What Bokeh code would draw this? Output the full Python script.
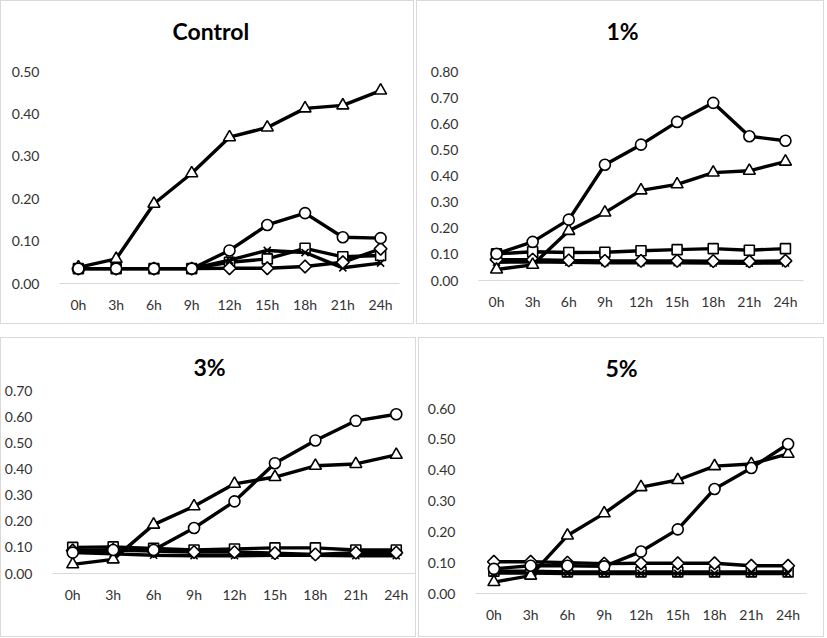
from bokeh.plotting import figure
from bokeh.layouts import row, column
from bokeh.models import FactorRange, Range1d, NumeralTickFormatter, SingleIntervalTicker, Title
from bokeh.embed import file_html
from bokeh.resources import INLINE

hours = ["0h", "3h", "6h", "9h", "12h", "15h", "18h", "21h", "24h"]

# Control
tri_c = [0.038, 0.058, 0.188, 0.26, 0.345, 0.368, 0.413, 0.42, 0.455]
circle_c = [0.035, 0.035, 0.035, 0.035, 0.078, 0.138, 0.166, 0.109, 0.107]
square_c = [0.035, 0.035, 0.035, 0.035, 0.05, 0.058, 0.083, 0.063, 0.066]
x_c = [0.035, 0.035, 0.035, 0.035, 0.055, 0.078, 0.073, 0.037, 0.048]
diamond_c = [0.035, 0.035, 0.035, 0.035, 0.036, 0.036, 0.04, 0.05, 0.082]

# 1%
tri_1 = [0.042, 0.06, 0.19, 0.26, 0.345, 0.368, 0.413, 0.42, 0.455]
circle_1 = [0.102, 0.148, 0.233, 0.443, 0.52, 0.607, 0.68, 0.552, 0.535]
square_1 = [0.102, 0.11, 0.107, 0.108, 0.114, 0.118, 0.122, 0.116, 0.122]
x_1 = [0.07, 0.072, 0.07, 0.068, 0.068, 0.068, 0.067, 0.066, 0.067]
diamond_1 = [0.08, 0.08, 0.077, 0.075, 0.075, 0.075, 0.074, 0.073, 0.075]

# 3%
tri_3 = [0.035, 0.054, 0.187, 0.257, 0.343, 0.369, 0.412, 0.419, 0.454]
circle_3 = [0.08, 0.09, 0.09, 0.174, 0.276, 0.422, 0.509, 0.584, 0.609]
square_3 = [0.1, 0.102, 0.096, 0.09, 0.094, 0.098, 0.098, 0.09, 0.09]
x_3 = [0.08, 0.075, 0.07, 0.068, 0.068, 0.07, 0.07, 0.068, 0.068]
diamond_3 = [0.088, 0.09, 0.086, 0.082, 0.082, 0.078, 0.073, 0.08, 0.08]

# 5%
tri_5 = [0.037, 0.058, 0.188, 0.26, 0.345, 0.368, 0.413, 0.42, 0.453]
circle_5 = [0.08, 0.09, 0.09, 0.088, 0.136, 0.208, 0.339, 0.407, 0.485]
square_5 = [0.072, 0.072, 0.07, 0.07, 0.07, 0.07, 0.07, 0.07, 0.07]
x_5 = [0.066, 0.066, 0.065, 0.065, 0.065, 0.065, 0.065, 0.065, 0.065]
diamond_5 = [0.103, 0.103, 0.1, 0.097, 0.098, 0.098, 0.098, 0.09, 0.09]

FONT = "Lato"
TXT = "#333333"


def panel(title, ymax, series, w, h, left, right, top, bottom, t_off, gap):
    p = figure(width=w, height=h, x_range=FactorRange(*hours), y_range=Range1d(0, ymax + 1e-6),
               output_backend="svg", toolbar_location=None,
               min_border_left=left, min_border_right=right,
               min_border_top=top, min_border_bottom=bottom)
    p.outline_line_color = None
    p.xgrid.grid_line_color = None
    p.ygrid.grid_line_color = None
    p.background_fill_color = "white"
    p.border_fill_color = "white"
    p.styles = {"border": "1px solid #d9d9d9", "box-sizing": "border-box"}

    # spacer between the frame and the title
    p.add_layout(Title(text=" ", standoff=gap, text_font_size="1px"), "above")

    p.title.text = title
    p.title.align = "left"
    p.title.offset = t_off
    p.title.standoff = 0
    p.title.text_font = FONT
    p.title.text_font_style = "bold"
    p.title.text_font_size = "23px"
    p.title.text_color = "black"

    p.xaxis.axis_line_color = "#d9d9d9"
    p.xaxis.axis_line_width = 1
    p.xaxis.major_tick_line_color = None
    p.xaxis.minor_tick_line_color = None
    p.xaxis.major_label_standoff = 6
    p.xaxis.major_label_text_font = FONT
    p.xaxis.major_label_text_font_size = "14px"
    p.xaxis.major_label_text_color = TXT

    p.yaxis.axis_line_color = None
    p.yaxis.major_tick_line_color = None
    p.yaxis.minor_tick_line_color = None
    p.yaxis.ticker = SingleIntervalTicker(interval=0.1)
    p.yaxis.formatter = NumeralTickFormatter(format="0.00")
    p.yaxis.major_label_standoff = 14
    p.yaxis.major_label_text_font = FONT
    p.yaxis.major_label_text_font_size = "14px"
    p.yaxis.major_label_text_color = TXT

    tri, circ, sq, xx, dia = series
    for vals, marker, size, ang in [(sq, "square", 10, 0.0), (xx, "x", 10, 0.0),
                                    (dia, "square", 9, 0.785398),
                                    (tri, "triangle", 12, 0.0), (circ, "circle", 11, 0.0)]:
        p.line(hours, vals, line_color="black", line_width=3.4)
        p.scatter(hours, vals, marker=marker, size=size, angle=ang, fill_color="white",
                  line_color="black", line_width=1.6)
    return p


p1 = panel("Control", 0.5, (tri_c, circle_c, square_c, x_c, diamond_c),
           414, 324, 58, 16, 70, 42, 113, 24)
p2 = panel("1%", 0.8, (tri_1, circle_1, square_1, x_1, diamond_1),
           408, 324, 61, 22, 70, 45, 128, 24)
p3 = panel("3%", 0.7, (tri_3, circle_3, square_3, x_3, diamond_3),
           416, 300, 48, 1, 52, 65, 141, 7)
p4 = panel("5%", 0.6, (tri_5, circle_5, square_5, x_5, diamond_5),
           406, 300, 56, 19, 70, 45, 130, 24)

layout = column(row(column(p1), column(p2), spacing=2),
                row(column(p3), column(p4), spacing=2), spacing=13)
open("out.html", "w").write(file_html(layout, INLINE))
